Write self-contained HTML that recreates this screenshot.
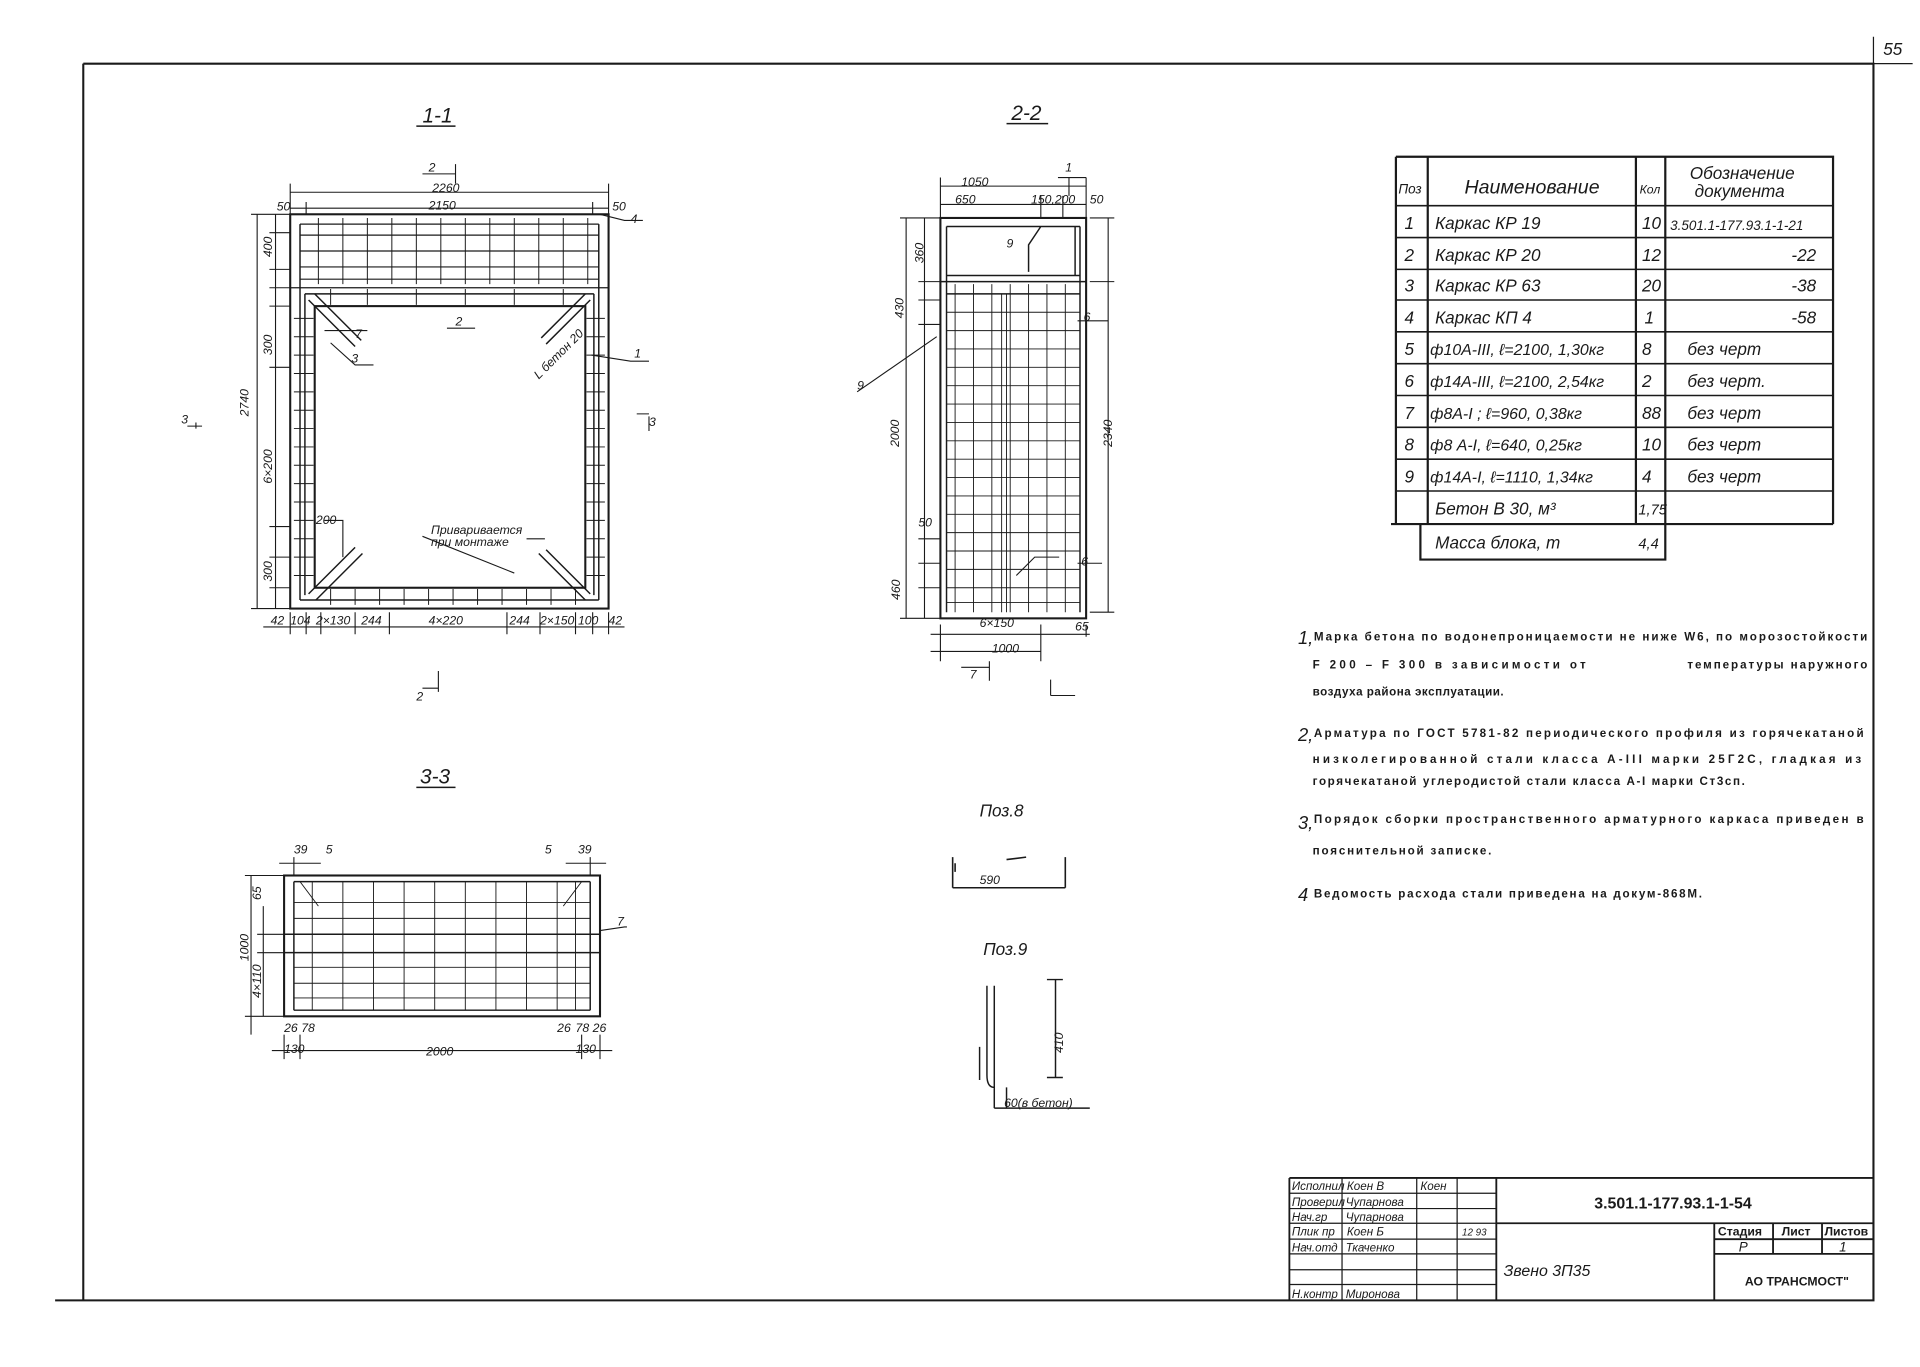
<!DOCTYPE html>
<html><head><meta charset="utf-8"><style>
html,body{margin:0;padding:0;background:#fff}
svg{display:block}
text{font-family:"Liberation Sans","DejaVu Sans",sans-serif;fill:#1a1a1a}
.it{font-style:italic}
</style></head><body>
<svg width="1920" height="1367" viewBox="0 0 1568 1116.4" xmlns="http://www.w3.org/2000/svg">
<g stroke="#1a1a1a" fill="none" stroke-width="1.7">
<!-- frame -->
<path d="M68 52 H1530 V1062 H45 M68 52 V1062"/>
<path d="M1530 30 V52 M1530 52 H1562" stroke-width="1"/>
<path d="M340 103 H372 M822 101 H856 M340 643 H372" stroke-width="1.2"/>
<!-- ===== 1-1 ===== -->
<rect x="237" y="175" width="260" height="322"/>
<rect x="257" y="250" width="221" height="230"/>
<path d="M237 235 H497 M245 183 H489 M245 192 H489 M245 205 H489 M245 218 H489 M245 228 H489" stroke-width="1"/>
<path d="M245 183 V490 M489 183 V490 M245 490 H489 M249 240 H485 M249 240 V486 M485 240 V486" stroke-width="1.2"/>
<g stroke-width="0.8">
<path d="M260 178 V232 M280 178 V232 M300 178 V232 M320 178 V232 M340 178 V232 M360 178 V232 M380 178 V232 M400 178 V232 M420 178 V232 M440 178 V232 M460 178 V232 M480 178 V232"/>
<path d="M240 260 H256 M240 275 H256 M240 290 H256 M240 305 H256 M240 320 H256 M240 335 H256 M240 350 H256 M240 365 H256 M240 380 H256 M240 395 H256 M240 410 H256 M240 425 H256 M240 440 H256 M240 455 H256 M240 470 H256"/>
<path d="M479 260 H494 M479 275 H494 M479 290 H494 M479 305 H494 M479 320 H494 M479 335 H494 M479 350 H494 M479 365 H494 M479 380 H494 M479 395 H494 M479 410 H494 M479 425 H494 M479 440 H494 M479 455 H494 M479 470 H494"/>
<path d="M270 481 V494 M290 481 V494 M310 481 V494 M330 481 V494 M350 481 V494 M370 481 V494 M390 481 V494 M410 481 V494 M430 481 V494 M450 481 V494 M470 481 V494"/>
<path d="M270 236 V249 M300 236 V249 M340 236 V249 M380 236 V249 M420 236 V249 M460 236 V249"/>
</g>
<path d="M252 245 L290 283 M257 240 L295 278 M482 245 L446 281 M478 240 L442 276 M252 485 L290 447 M258 490 L296 452 M482 485 L446 449 M478 490 L440 452" stroke-width="1.2"/>
<g stroke-width="0.9">
<path d="M237 157 H497 M237 170 H497 M237 150 V175 M497 150 V175 M250 165 V175 M484 165 V175"/>
<path d="M210 175 V497 M205 175 H237 M205 497 H237 M225 175 V497 M220 190 H237 M220 220 H237 M220 235 H237 M220 250 H237 M220 300 H237 M220 430 H237 M220 455 H237 M220 480 H237"/>
<path d="M215 512 H510 M237 500 V518 M250 500 V518 M262 500 V518 M290 500 V518 M318 500 V518 M414 500 V518 M441 500 V518 M470 500 V518 M484 500 V518 M497 500 V518"/>
<path d="M345 142 H372 M372 134 V150 M345 562 H358 M358 548 V565 M160 350 V345 M153 348 H165 M530 340 V352 M520 338 H530"/>
<path d="M490 175 L510 180 H525 M483 290 L515 295 H530 M270 280 L290 298 H305 M265 270 L283 270 H300 M365 268 H388 M265 425 H280 V455 M430 440 H445 M345 438 L420 468"/>
</g>
<!-- ===== 2-2 ===== -->
<rect x="768" y="178" width="119" height="327"/>
<path d="M768 230 H887 M773 185 H882 M773 225 H882 M878 185 V225 M850 185 L840 200 V222 M773 240 H882 M773 185 V500 M882 185 V500" stroke-width="1.2"/>
<g stroke-width="0.75">
<path d="M780 232 V500 M795 232 V500 M810 232 V500 M825 232 V500 M840 232 V500 M855 232 V500 M870 232 V500 M818 240 V500 M822 240 V500"/>
<path d="M773 255 H882 M773 270 H882 M773 285 H882 M773 300 H882 M773 315 H882 M773 330 H882 M773 345 H882 M773 360 H882 M773 375 H882 M773 390 H882 M773 405 H882 M773 420 H882 M773 435 H882 M773 450 H882 M773 465 H882 M773 480 H882 M773 492 H882"/>
</g>
<g stroke-width="0.9">
<path d="M768 152 H887 M768 167 H887 M768 145 V178 M887 145 V178 M850 160 V178 M868 160 V178 M873 145 V160 M864 145 H887"/>
<path d="M740 178 V505 M735 178 H768 M735 505 H768 M755 178 V505 M750 230 H768 M750 245 H768 M750 265 H768 M750 440 H768 M750 460 H768 M750 480 H768 M905 178 V500 M890 178 H910 M890 230 H910 M890 500 H910"/>
<path d="M760 518 H890 M760 532 H850 M768 510 V540 M850 510 V540 M887 510 V520 M785 545 H808 M808 540 V556 M858 555 V568 M858 568 H878"/>
<path d="M700 320 L765 275 M880 262 H905 M880 460 H900 M830 470 L845 455 H865"/>
</g>
<!-- ===== 3-3 ===== -->
<rect x="232" y="715" width="258" height="115"/>
<path d="M240 720 H482 M240 825 H482 M240 720 V825 M482 720 V825 M232 763 H490 M232 778 H490" stroke-width="1.2"/>
<g stroke-width="0.75">
<path d="M240 737 H482 M240 750 H482 M240 790 H482 M240 803 H482 M240 815 H482"/>
<path d="M255 720 V825 M280 720 V825 M305 720 V825 M330 720 V825 M355 720 V825 M380 720 V825 M405 720 V825 M430 720 V825 M455 720 V825 M470 720 V825"/>
<path d="M245 720 L260 740 M475 720 L460 740"/>
</g>
<g stroke-width="0.9">
<path d="M205 715 V845 M200 715 H232 M200 830 H232 M215 740 V830 M210 763 H232 M210 778 H232"/>
<path d="M222 858 H500 M232 845 V865 M245 845 V865 M490 845 V865 M475 845 V865 M240 700 V715 M482 700 V715 M228 705 H262 M462 705 H495 M490 760 L510 757 H512"/>
</g>
<path d="M778 725 H870 M778 700 V725 M870 700 V725 M822 702 L838 700 M780 705 V712" stroke-width="1.3"/>
<path d="M812 805 V888 M806 805 V878 Q806 888 812 888 M800 855 V882 M812 888 V905 M822 888 V905 M862 800 V880 M855 800 H868 M855 880 H868 M812 905 H890" stroke-width="1.2"/>
<!-- ===== table ===== -->
<g stroke-width="1.8">
<path d="M1140 128 H1497 V428 M1140 128 V428 M1166 128 V428 M1336 128 V428 M1360 128 V428 M1160 428 V457 H1360 V428 M1136 428 H1497"/>
<path d="M1140 168 H1497 M1140 194 H1497 M1140 220 H1497 M1140 245 H1497 M1140 271 H1497 M1140 297 H1497 M1140 323 H1497 M1140 349 H1497 M1140 375 H1497 M1140 401 H1497" stroke-width="1.3"/>
</g>
<!-- ===== title block ===== -->
<g stroke-width="1.5">
<path d="M1053 962 H1530 M1053 962 V1062 M1222 962 V1062 M1222 999 H1530 M1400 999 V1062 M1400 1024 H1530 M1448 999 V1024 M1488 999 V1024 M1400 1012 H1530"/>
<path d="M1053 974.5 H1222 M1053 987 H1222 M1053 999 H1222 M1053 1012 H1222 M1053 1024 H1222 M1053 1037 H1222 M1053 1049 H1222 M1096 962 V1062 M1157 962 V1062 M1190 962 V1062" stroke-width="1"/>
</g>
</g>
<!-- ===== text ===== -->
<g class="it" font-size="17"><text x="345" y="100">1-1</text><text x="826" y="98">2-2</text><text x="343" y="640">3-3</text></g>
<g font-size="10" class="it">
<text x="350" y="140">2</text><text x="870" y="140">1</text>
<text x="353" y="157">2260</text><text x="350" y="171">2150</text><text x="226" y="172">50</text><text x="500" y="172">50</text>
<text x="515" y="182">4</text><text x="518" y="292">1</text><text x="290" y="276">7</text><text x="287" y="296">3</text><text x="372" y="266">2</text>
<text x="148" y="346">3</text><text x="530" y="348">3</text>
<text x="221" y="510">42</text><text x="237" y="510">104</text><text x="258" y="510">2×130</text><text x="295" y="510">244</text><text x="350" y="510">4×220</text><text x="416" y="510">244</text><text x="441" y="510">2×150</text><text x="472" y="510">100</text><text x="497" y="510">42</text>
<text x="340" y="572">2</text>
<text x="258" y="428">200</text><text x="352" y="436">Приваривается</text><text x="352" y="446">при монтаже</text>
<text x="785" y="152">1050</text><text x="780" y="166">650</text><text x="842" y="166">150,200</text><text x="890" y="166">50</text>
<text x="822" y="202">9</text><text x="885" y="262">6</text><text x="883" y="462">6</text><text x="700" y="318">9</text>
<text x="750" y="430">50</text><text x="800" y="512">6×150</text><text x="810" y="533">1000</text><text x="878" y="515">65</text>
<text x="792" y="554">7</text>
<text x="240" y="697">39</text><text x="266" y="697">5</text><text x="445" y="697">5</text><text x="472" y="697">39</text><text x="504" y="756">7</text>
<text x="348" y="862">2000</text><text x="232" y="860">130</text><text x="470" y="860">130</text><text x="232" y="843">26</text><text x="246" y="843">78</text><text x="455" y="843">26</text><text x="470" y="843">78</text><text x="484" y="843">26</text>
<text x="800" y="722">590</text><text x="820" y="904">60(в бетон)</text>
</g>
<g font-size="10" class="it">
<text transform="translate(203 340) rotate(-90)">2740</text>
<text transform="translate(222 395) rotate(-90)">6×200</text>
<text transform="translate(222 290) rotate(-90)">300</text>
<text transform="translate(222 210) rotate(-90)">400</text>
<text transform="translate(222 475) rotate(-90)">300</text>
<text transform="translate(738 260) rotate(-90)">430</text>
<text transform="translate(734 365) rotate(-90)">2000</text>
<text transform="translate(735 490) rotate(-90)">460</text>
<text transform="translate(908 365) rotate(-90)">2340</text>
<text transform="translate(754 215) rotate(-90)">360</text>
<text transform="translate(203 785) rotate(-90)">1000</text>
<text transform="translate(213 735) rotate(-90)">65</text>
<text transform="translate(213 815) rotate(-90)">4×110</text>
<text transform="translate(868 860) rotate(-90)">410</text>
<text transform="translate(440 310) rotate(-45)">L бетон 20</text>
</g>
<text x="800" y="667" font-size="14" class="it">Поз.8</text>
<text x="803" y="780" font-size="14" class="it">Поз.9</text>
<text x="1538" y="45" font-size="14" class="it">55</text>
<g class="it" font-size="14">
<text x="1142" y="158" font-size="11">Поз</text><text x="1196" y="158" font-size="16">Наименование</text><text x="1339" y="158" font-size="10">Кол</text>
<text x="1380" y="146">Обозначение</text><text x="1384" y="161">документа</text>
<text x="1147" y="187">1</text><text x="1172" y="187">Каркас КР 19</text><text x="1341" y="187">10</text><text x="1364" y="188" font-size="11">3.501.1-177.93.1-1-21</text>
<text x="1147" y="213">2</text><text x="1172" y="213">Каркас КР 20</text><text x="1341" y="213">12</text><text x="1463" y="213">-22</text>
<text x="1147" y="238">3</text><text x="1172" y="238">Каркас КР 63</text><text x="1341" y="238">20</text><text x="1463" y="238">-38</text>
<text x="1147" y="264">4</text><text x="1172" y="264">Каркас КП 4</text><text x="1343" y="264">1</text><text x="1463" y="264">-58</text>
<text x="1147" y="290">5</text><text x="1168" y="290" font-size="13">ф10А-III, ℓ=2100, 1,30кг</text><text x="1341" y="290">8</text><text x="1378" y="290">без черт</text>
<text x="1147" y="316">6</text><text x="1168" y="316" font-size="13">ф14А-III, ℓ=2100, 2,54кг</text><text x="1341" y="316">2</text><text x="1378" y="316">без черт.</text>
<text x="1147" y="342">7</text><text x="1168" y="342" font-size="13">ф8А-I ; ℓ=960, 0,38кг</text><text x="1341" y="342">88</text><text x="1378" y="342">без черт</text>
<text x="1147" y="368">8</text><text x="1168" y="368" font-size="13">ф8 А-I, ℓ=640, 0,25кг</text><text x="1341" y="368">10</text><text x="1378" y="368">без черт</text>
<text x="1147" y="394">9</text><text x="1168" y="394" font-size="13">ф14А-I, ℓ=1110, 1,34кг</text><text x="1341" y="394">4</text><text x="1378" y="394">без черт</text>
<text x="1172" y="420">Бетон В 30, м³</text><text x="1338" y="420" font-size="12">1,75</text>
<text x="1172" y="448">Масса блока, т</text><text x="1338" y="448" font-size="12">4,4</text>
</g>
<!-- notes -->
<g class="it" font-size="15"><text x="1060" y="526">1,</text><text x="1060" y="605">2,</text><text x="1060" y="677">3,</text><text x="1060" y="736">4</text></g>
<g font-size="9.5" font-weight="bold" lengthAdjust="spacing">
<text x="1073" y="523" textLength="452">Марка бетона по водонепроницаемости не ниже W6, по морозостойкости</text>
<text x="1072" y="546" textLength="223">F 200 – F 300 в зависимости от</text><text x="1378" y="546" textLength="147">температуры наружного</text>
<text x="1072" y="568" textLength="156">воздуха района эксплуатации.</text>
<text x="1073" y="602" textLength="449">Арматура по ГОСТ 5781-82 периодического профиля из горячекатаной</text>
<text x="1072" y="623" textLength="448">низколегированной стали класса А-III марки 25Г2С, гладкая из</text>
<text x="1072" y="641" textLength="353">горячекатаной углеродистой стали класса А-I марки Ст3сп.</text>
<text x="1073" y="672" textLength="449">Порядок сборки пространственного арматурного каркаса приведен в</text>
<text x="1072" y="698" textLength="146">пояснительной записке.</text>
<text x="1073" y="733" textLength="317">Ведомость расхода стали приведена на докум-868М.</text>
</g>
<g class="it" font-size="9.5">
<text x="1055" y="972">Исполнил</text><text x="1100" y="972">Коен В</text><text x="1160" y="972">Коен</text>
<text x="1055" y="985">Проверил</text><text x="1099" y="985">Чупарнова</text>
<text x="1055" y="997">Нач.гр</text><text x="1099" y="997">Чупарнова</text>
<text x="1055" y="1009">Плик пр</text><text x="1100" y="1009">Коен Б</text><text x="1194" y="1009" font-size="8">12 93</text>
<text x="1055" y="1022">Нач.отд</text><text x="1099" y="1022">Ткаченко</text>
<text x="1055" y="1060">Н.контр</text><text x="1099" y="1060">Миронова</text>
<text x="1228" y="1042" font-size="13">Звено 3П35</text>
</g>
<text x="1302" y="987" font-size="13" font-family="Liberation Mono" font-weight="bold">3.501.1-177.93.1-1-54</text>
<g font-size="10" font-weight="bold"><text x="1403" y="1009">Стадия</text><text x="1455" y="1009">Лист</text><text x="1490" y="1009">Листов</text></g>
<g class="it" font-size="11"><text x="1420" y="1022">Р</text><text x="1502" y="1022">1</text></g>
<text x="1425" y="1050" font-size="10" font-weight="bold" font-family="Liberation Serif">АО  ТРАНСМОСТ"</text>
</svg>
</body></html>
